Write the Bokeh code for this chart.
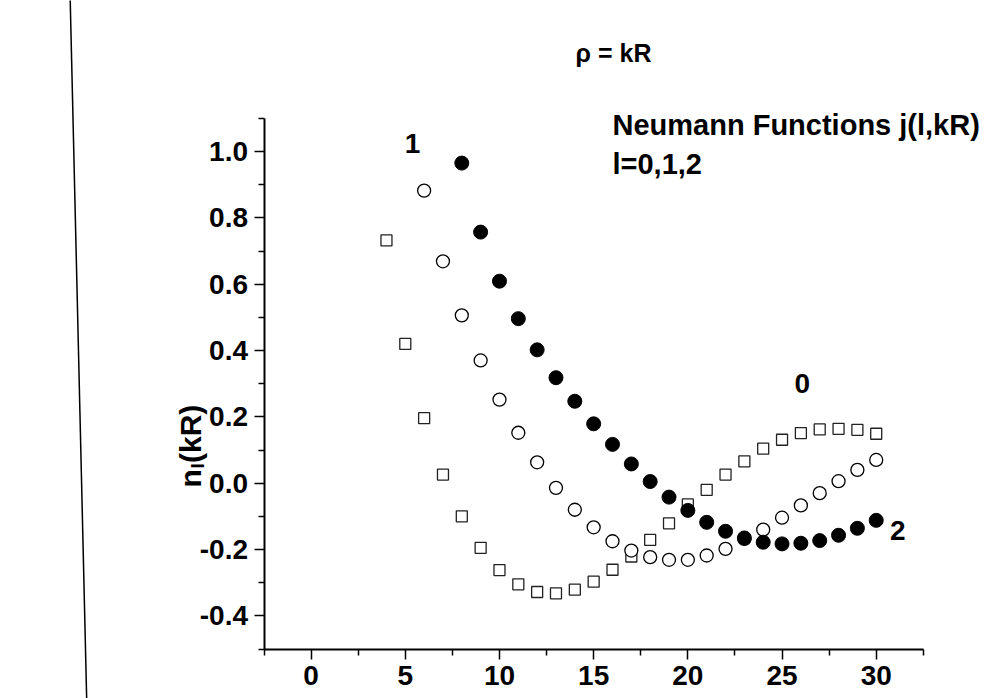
from bokeh.plotting import figure
from bokeh.models import (Range1d, FixedTicker, PrintfTickFormatter, Label, Arrow,
                          ColumnDataSource)
from bokeh.embed import file_html
from bokeh.resources import INLINE

# ---- data ----
x_l0 = list(range(4, 31))
n_l0 = [0.732, 0.420, 0.196, 0.026, -0.100, -0.195, -0.262, -0.305, -0.328, -0.332,
        -0.321, -0.297, -0.261, -0.221, -0.171, -0.121, -0.064, -0.020, 0.026, 0.066,
        0.104, 0.131, 0.151, 0.162, 0.164, 0.161, 0.149]

x_l1 = list(range(6, 31))
n_l1 = [0.882, 0.669, 0.506, 0.370, 0.252, 0.152, 0.063, -0.014, -0.080, -0.133,
        -0.175, -0.203, -0.223, -0.231, -0.231, -0.218, -0.198, -0.168, -0.140, -0.104,
        -0.067, -0.030, 0.006, 0.040, 0.070]

x_l2 = list(range(8, 31))
n_l2 = [0.965, 0.757, 0.609, 0.496, 0.402, 0.318, 0.247, 0.179, 0.117, 0.058,
        0.005, -0.042, -0.082, -0.118, -0.145, -0.165, -0.178, -0.183, -0.181, -0.173,
        -0.157, -0.136, -0.112]

x_major = [0, 5, 10, 15, 20, 25, 30]
x_minor = [-2.5, 2.5, 7.5, 12.5, 17.5, 22.5, 27.5, 32.5]
y_major = [-0.4, -0.2, 0.0, 0.2, 0.4, 0.6, 0.8, 1.0]
y_minor = [-0.5, -0.3, -0.1, 0.1, 0.3, 0.5, 0.7, 0.9, 1.1]
x_axis_extent = (-2.5, 32.5)
y_axis_extent = (-0.5, 1.1)

FONT = "Liberation Sans"

# frame covers the whole canvas; axes are drawn at fixed data locations
p = figure(width=995, height=698, output_backend="svg", toolbar_location=None,
           x_range=Range1d(-16.489, 36.332), y_range=Range1d(-0.6491, 1.4552),
           min_border=0, min_border_left=0, min_border_right=0,
           min_border_top=0, min_border_bottom=0)
p.outline_line_color = None
p.grid.visible = False
p.background_fill_color = "white"
p.border_fill_color = "white"

for ax in (p.xaxis[0], p.yaxis[0]):
    ax.axis_line_width = 2
    ax.axis_line_color = "black"
    ax.major_tick_line_width = 1.5
    ax.minor_tick_line_width = 1.5
    ax.major_tick_in = 0
    ax.minor_tick_in = 0
    ax.major_tick_out = 10
    ax.minor_tick_out = 6
    ax.major_label_text_font = FONT
    ax.major_label_text_font_style = "bold"
    ax.major_label_text_font_size = "28px"
    ax.major_label_text_color = "black"

p.xaxis.ticker = FixedTicker(ticks=x_major, minor_ticks=x_minor)
p.yaxis.ticker = FixedTicker(ticks=y_major, minor_ticks=y_minor)
p.yaxis.formatter = PrintfTickFormatter(format="%.1f")
p.xaxis.major_label_standoff = 7
p.yaxis.major_label_standoff = 6
p.xaxis.fixed_location = y_axis_extent[0]
p.yaxis.fixed_location = x_axis_extent[0]
p.xaxis.bounds = x_axis_extent
p.yaxis.bounds = y_axis_extent

src0 = ColumnDataSource(dict(x=x_l0, y=n_l0))
src1 = ColumnDataSource(dict(x=x_l1, y=n_l1))
src2 = ColumnDataSource(dict(x=x_l2, y=n_l2))

p.scatter("x", "y", source=src0, marker="square", size=11, fill_color="white",
          line_color="#222222", line_width=1.3)
p.scatter("x", "y", source=src1, marker="circle", size=13, fill_color="white",
          line_color="black", line_width=1.3)
p.scatter("x", "y", source=src2, marker="circle", size=14, fill_color="black",
          line_color="black", line_width=1)

def lab(x, y, text, size="28px", align="left", baseline="alphabetic", angle=0):
    p.add_layout(Label(x=x, y=y, text=text, text_font=FONT, text_font_style="bold",
                       text_font_size=size, text_align=align, text_baseline=baseline,
                       angle=angle, text_color="black"))

# curve labels
lab(5.39, 1.024, "1", align="center", baseline="middle")
lab(26.07, 0.300, "0", align="center", baseline="middle")
lab(31.14, -0.143, "2", align="center", baseline="middle")

# annotations
lab(14.04, 1.298, "\u03c1 = kR", size="25px")
lab(16.0, 1.081, "Neumann Functions j(l,kR)", size="29px")
lab(16.0, 0.963, "l=0,1,2", size="29px")

# y-axis title n_l(kR), rotated
lab(-6.40, -0.013, "n", size="30px", angle=1.5708)
lab(-6.05, 0.0443, "l", size="19px", angle=1.5708)
lab(-6.40, 0.0609, "(kR)", size="30px", angle=1.5708)

# slanted edge line at far left of the page
edge_x = [-12.79, -11.91]
edge_y = [1.46, -0.66]
p.add_layout(Arrow(end=None, x_start=edge_x[0], y_start=edge_y[0],
                   x_end=edge_x[1], y_end=edge_y[1], line_color="black", line_width=1.5))

open("out.html", "w").write(file_html(p, INLINE))
